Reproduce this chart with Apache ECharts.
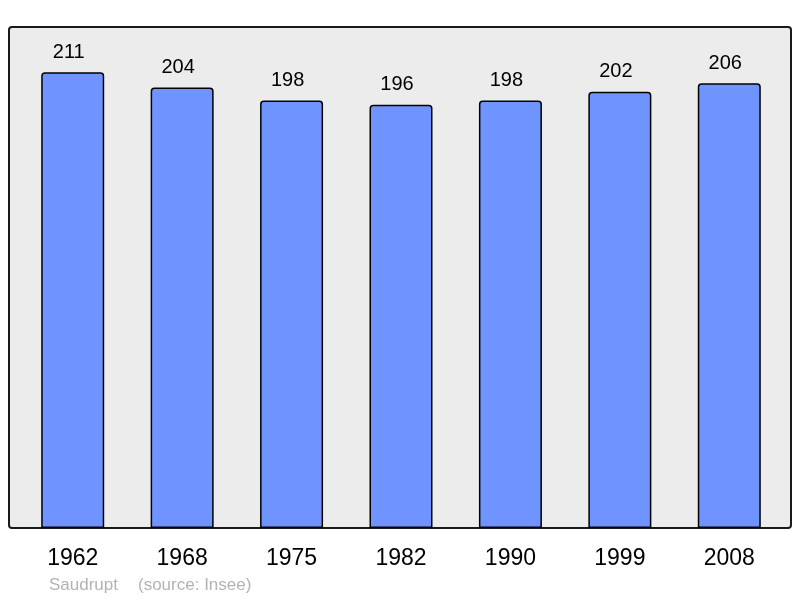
<!DOCTYPE html>
<html>
<head>
<meta charset="utf-8">
<script src="https://cdn.jsdelivr.net/npm/echarts@6/dist/echarts.min.js"></script>
<style>
  html, body { margin: 0; padding: 0; background: #fff; }
  #chart { width: 800px; height: 598px; }
</style>
</head>
<body>
<div id="chart"></div>
<script>
// population data
const years = ['1962', '1968', '1975', '1982', '1990', '1999', '2008'];
const population = [211, 204, 198, 196, 198, 202, 206];
const townName = 'Saudrupt';
const sourceText = '(source: Insee)';

const chart = echarts.init(document.getElementById('chart'));

chart.setOption({
    animation: false,
    textStyle: {fontFamily: 'Liberation Sans, Arial, sans-serif'},
    grid: {left: 18, right: 16, top: 27, bottom: 70},
    graphic: [
        {
            type: 'rect',
            z: -10,
            shape: {x: 9, y: 27, width: 782, height: 501, r: 3},
            style: {fill: '#ececec', stroke: '#1a1a1a', lineWidth: 2}
        },
        {
            type: 'text',
            left: 49, top: 577,
            style: {text: townName, fill: '#b3b3b3', font: '17px Liberation Sans, Arial, sans-serif'}
        },
        {
            type: 'text',
            left: 138, top: 577,
            style: {text: sourceText, fill: '#b3b3b3', font: '17px Liberation Sans, Arial, sans-serif'}
        }
    ],
    xAxis: {
        type: 'category',
        data: years,
        axisLine: {show: false},
        axisTick: {show: false},
        axisLabel: {color: '#000', fontSize: 23, margin: 19}
    },
    yAxis: {
        type: 'value',
        min: 0,
        max: 232,
        show: false,
        splitLine: {show: false}
    },
    series: [{
        type: 'bar',
        data: population,
        barWidth: 63,
        itemStyle: {
            color: '#7094ff',
            borderColor: '#000',
            borderWidth: 1.5,
            borderRadius: [3, 3, 0, 0]
        },
        label: {
            show: true,
            position: 'top',
            distance: 10,
            offset: [-4, 0],
            color: '#000',
            fontSize: 20
        }
    }]
});
</script>
</body>
</html>
